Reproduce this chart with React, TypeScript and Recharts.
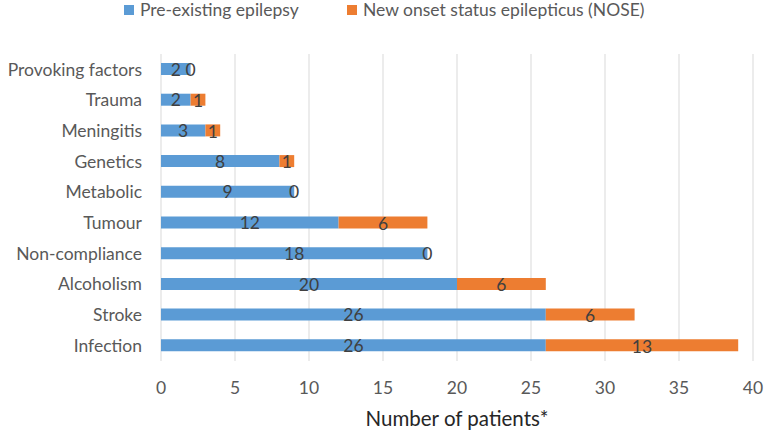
import React from 'react';
import { BarChart, Bar, XAxis, YAxis, CartesianGrid, Legend, LabelList } from 'recharts';

const categories = [
  'Provoking factors', 'Trauma', 'Meningitis', 'Genetics', 'Metabolic',
  'Tumour', 'Non-compliance', 'Alcoholism', 'Stroke', 'Infection',
];
const preExisting = [2, 2, 3, 8, 9, 12, 18, 20, 26, 26];
const nose = [0, 1, 1, 1, 0, 6, 0, 6, 6, 13];
const xTicks = [0, 5, 10, 15, 20, 25, 30, 35, 40];

const data = categories.map((name, i) => ({ name, pre: preExisting[i], nose: nose[i] }));

const FONT = 'Lato, "Open Sans", sans-serif';
const BLUE = '#5B9BD5';
const ORANGE = '#ED7D31';
const TEXT = '#595959';
const FS = 17.5;

const legendItems = [
  { label: 'Pre-existing epilepsy', color: BLUE, left: 0 },
  { label: 'New onset status epilepticus (NOSE)', color: ORANGE, left: 223 },
];

const LegendContent = () => (
  <div style={{ position: 'relative', width: 560, height: 20, fontFamily: FONT, fontSize: FS, lineHeight: '20px', color: TEXT }}>
    {legendItems.map((d) => (
      <div key={d.label} style={{ position: 'absolute', left: d.left, top: 0, display: 'flex', alignItems: 'center', gap: 6, whiteSpace: 'nowrap' }}>
        <span style={{ width: 10, height: 10, background: d.color, display: 'inline-block' }} />
        <span>{d.label}</span>
      </div>
    ))}
  </div>
);

// centre label for the blue part; a zero NOSE value is drawn at the end of the blue bar
const PreLabel = (props: any) => {
  const { x, y, width, height, value, index } = props;
  const cy = y + height / 2;
  return (
    <g>
      <text x={x + width / 2} y={cy} dy="0.38em" textAnchor="middle" fill="#404040" fontSize={FS} fontFamily={FONT}>
        {value}
      </text>
      {nose[index] === 0 && (
        <text x={x + width} y={cy} dy="0.38em" textAnchor="middle" fill="#404040" fontSize={FS} fontFamily={FONT}>
          0
        </text>
      )}
    </g>
  );
};

export default function App() {
  return (
    <div style={{ position: 'absolute', left: 0, top: 0, width: 765, height: 433, background: '#fff' }}>
      <BarChart
        width={765}
        height={433}
        data={data}
        layout="vertical"
        margin={{ top: 34, right: 12, bottom: 0, left: 0 }}
        barSize={12}
      >
        <CartesianGrid horizontal={false} stroke="#D9D9D9" />
        <XAxis
          type="number"
          domain={[0, 40]}
          ticks={xTicks}
          axisLine={false}
          tickLine={false}
          tickSize={0}
          tickMargin={21}
          height={72}
          tick={{ fill: TEXT, fontSize: FS, fontFamily: FONT }}
          label={{ value: 'Number of patients*', position: 'insideBottom', offset: 7, fill: '#262626', fontSize: 20.5, fontFamily: FONT }}
        />
        <YAxis
          type="category"
          dataKey="name"
          width={161}
          axisLine={false}
          tickLine={false}
          tickSize={0}
          tickMargin={19}
          tick={{ fill: TEXT, fontSize: FS, fontFamily: FONT }}
        />
        <Legend verticalAlign="top" content={<LegendContent />} wrapperStyle={{ top: 0, left: 124, width: 'auto' }} />
        <Bar dataKey="pre" stackId="a" fill={BLUE} isAnimationActive={false}>
          <LabelList dataKey="pre" content={<PreLabel />} />
        </Bar>
        <Bar dataKey="nose" stackId="a" fill={ORANGE} isAnimationActive={false}>
          <LabelList dataKey="nose" position="center" dy={1} fill="#404040" fontSize={FS} fontFamily={FONT} />
        </Bar>
      </BarChart>
    </div>
  );
}
